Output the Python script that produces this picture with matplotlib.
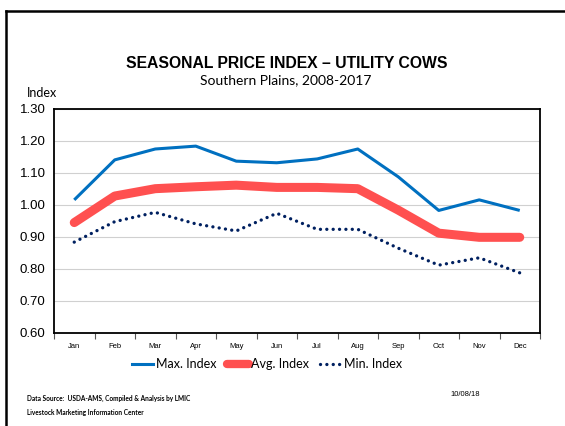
import matplotlib
matplotlib.use("Agg")
import matplotlib.pyplot as plt
from matplotlib.lines import Line2D
import numpy as np

months = ["Jan", "Feb", "Mar", "Apr", "May", "Jun", "Jul", "Aug", "Sep", "Oct", "Nov", "Dec"]
max_index = [1.016, 1.141, 1.175, 1.184, 1.137, 1.132, 1.144, 1.175, 1.088, 0.983, 1.016, 0.983]
avg_index = [0.945, 1.028, 1.051, 1.057, 1.062, 1.055, 1.055, 1.051, 0.984, 0.912, 0.899, 0.899]
min_index = [0.884, 0.948, 0.977, 0.941, 0.919, 0.974, 0.924, 0.924, 0.865, 0.812, 0.835, 0.788]
yticks = [0.60, 0.70, 0.80, 0.90, 1.00, 1.10, 1.20, 1.30]

W, H = 565, 426
fig = plt.figure(figsize=(W / 100, H / 100), dpi=100)
fig.patch.set_facecolor("white")

# frame lines (top and left)
fig.add_artist(Line2D([6 / W, 1], [1 - 11 / H, 1 - 11 / H], color="black", lw=1.8, transform=fig.transFigure))
fig.add_artist(Line2D([6 / W, 6 / W], [0, 1 - 11 / H], color="black", lw=1.8, transform=fig.transFigure))

left, right, top, bottom = 54, 540, 109, 333
ax = fig.add_axes([left / W, 1 - bottom / H, (right - left) / W, (bottom - top) / H])

dot_style = (0, (0.01, 1.9))
x = np.arange(len(months))
ax.plot(x, max_index, color="#0070C0", lw=2.2, solid_capstyle="butt", zorder=3)
ax.plot(x, avg_index, color="#FF5050", lw=6.5, solid_capstyle="round", solid_joinstyle="round", zorder=3)
ax.plot(x, min_index, color="#002060", lw=2.4, linestyle=dot_style, dash_capstyle="round", zorder=3)

ax.set_xlim(-0.5, 11.5)
ax.set_ylim(0.6, 1.3)
ax.set_yticks(yticks)
ax.set_yticklabels([f"{v:.2f}" for v in yticks], fontsize=9.5, family="Liberation Sans")
ax.tick_params(axis="y", length=0, pad=6)
ax.set_xticks(x)
ax.set_xticklabels(months, fontsize=5.5, family="Liberation Sans")
ax.tick_params(axis="x", length=0, pad=7)
ax.set_xticks(np.arange(-0.5, 12, 1), minor=True)
ax.tick_params(axis="x", which="minor", length=4, width=0.8, color="#555555")
ax.grid(axis="y", color="#d0d0d0", lw=0.8, zorder=0)
for s in ax.spines.values():
    s.set_color("black")
    s.set_linewidth(1.3)

fig.text(287 / W, 1 - 63 / H, "SEASONAL PRICE INDEX – UTILITY COWS", ha="center", va="center",
         fontsize=11.3, fontweight="bold", family="Liberation Sans")
fig.text(286 / W, 1 - 80 / H, "Southern Plains, 2008-2017", ha="center", va="center",
         fontsize=10, family="Lato")
fig.text(27 / W, 1 - 93 / H, "Index", ha="left", va="center", fontsize=9, family="Lato")

handles = [
    Line2D([], [], color="#0070C0", lw=2.2),
    Line2D([], [], color="#FF5050", lw=6, solid_capstyle="round"),
    Line2D([], [], color="#002060", lw=2.4, linestyle=dot_style, dash_capstyle="round"),
]
fig.legend(handles, ["Max. Index", "Avg. Index", "Min. Index"], loc="center",
           bbox_to_anchor=(267 / W, 1 - 364 / H), ncol=3, frameon=False,
           prop={"family": "Lato", "size": 9}, handlelength=1.7, handletextpad=0.2,
           columnspacing=0.9)

fig.text(27 / W, 1 - 398 / H, "Data Source:  USDA-AMS, Compiled & Analysis by LMIC", ha="left", va="center",
         fontsize=4.7, fontweight="bold", family="Lato")
fig.text(27 / W, 1 - 412 / H, "Livestock Marketing Information Center", ha="left", va="center",
         fontsize=4.7, fontweight="bold", family="Lato")
fig.text(450 / W, 1 - 394 / H, "10/08/18", ha="left", va="center", fontsize=5.5, family="Liberation Sans")

fig.savefig("out.png", dpi=100)
